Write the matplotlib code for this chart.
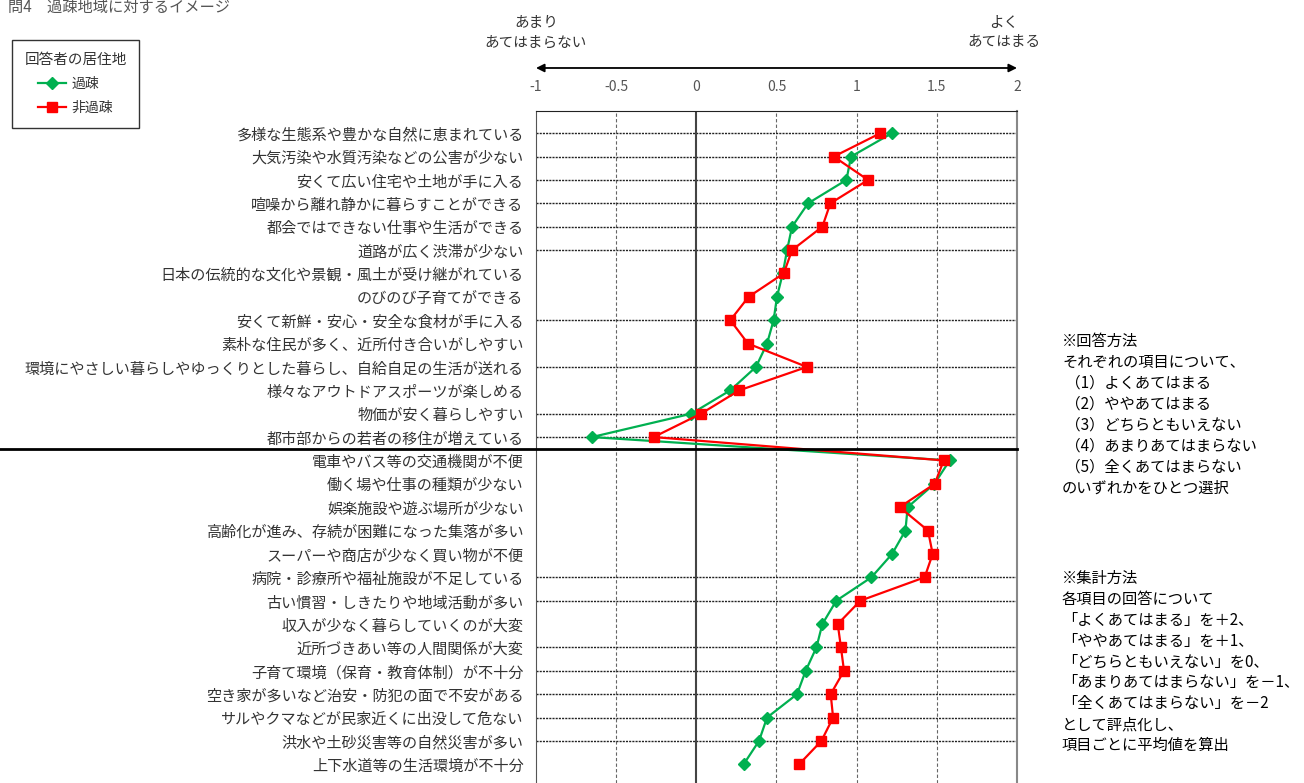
import numpy as np
import matplotlib
matplotlib.use("Agg")
import matplotlib.pyplot as plt
import matplotlib.transforms as mtransforms

plt.rcParams['font.family'] = ['Noto Sans CJK JP', 'DejaVu Sans']

# items (top = positive image, bottom = negative image)
items = [
    "多様な生態系や豊かな自然に恵まれている",
    "大気汚染や水質汚染などの公害が少ない",
    "安くて広い住宅や土地が手に入る",
    "喧噪から離れ静かに暮らすことができる",
    "都会ではできない仕事や生活ができる",
    "道路が広く渋滞が少ない",
    "日本の伝統的な文化や景観・風土が受け継がれている",
    "のびのび子育てができる",
    "安くて新鮮・安心・安全な食材が手に入る",
    "素朴な住民が多く、近所付き合いがしやすい",
    "環境にやさしい暮らしやゆっくりとした暮らし、自給自足の生活が送れる",
    "様々なアウトドアスポーツが楽しめる",
    "物価が安く暮らしやすい",
    "都市部からの若者の移住が増えている",
    "電車やバス等の交通機関が不便",
    "働く場や仕事の種類が少ない",
    "娯楽施設や遊ぶ場所が少ない",
    "高齢化が進み、存続が困難になった集落が多い",
    "スーパーや商店が少なく買い物が不便",
    "病院・診療所や福祉施設が不足している",
    "古い慣習・しきたりや地域活動が多い",
    "収入が少なく暮らしていくのが大変",
    "近所づきあい等の人間関係が大変",
    "子育て環境（保育・教育体制）が不十分",
    "空き家が多いなど治安・防犯の面で不安がある",
    "サルやクマなどが民家近くに出没して危ない",
    "洪水や土砂災害等の自然災害が多い",
    "上下水道等の生活環境が不十分",
]

kaso = [1.22, 0.965, 0.936, 0.697, 0.597, 0.566, 0.539, 0.503, 0.482, 0.441,
        0.372, 0.212, -0.031, -0.651,
        1.580, 1.485, 1.318, 1.304, 1.221, 1.092, 0.873, 0.786, 0.749, 0.682,
        0.628, 0.441, 0.391, 0.295]
hikaso = [1.148, 0.857, 1.071, 0.836, 0.786, 0.597, 0.545, 0.326, 0.212, 0.322,
          0.690, 0.268, 0.029, -0.266,
          1.543, 1.487, 1.268, 1.445, 1.474, 1.424, 1.023, 0.882, 0.902, 0.921,
          0.838, 0.853, 0.780, 0.641]

xticks = [-1, -0.5, 0, 0.5, 1, 1.5, 2]
xticklabels = ["-1", "-0.5", "0", "0.5", "1", "1.5", "2"]

# rows that carry a dotted gridline in the original
grid_rows = [0, 1, 2, 3, 4, 5, 8, 10, 12, 13, 19, 20, 22, 23, 24, 25, 26]

note1 = ("※回答方法\n"
         "それぞれの項目について、\n"
         " （1）よくあてはまる\n"
         " （2）ややあてはまる\n"
         " （3）どちらともいえない\n"
         " （4）あまりあてはまらない\n"
         " （5）全くあてはまらない\n"
         "のいずれかをひとつ選択")
note2 = ("※集計方法\n"
         "各項目の回答について\n"
         "「よくあてはまる」を＋2、\n"
         "「ややあてはまる」を＋1、\n"
         "「どちらともいえない」を0、\n"
         "「あまりあてはまらない」を－1、\n"
         "「全くあてはまらない」を－2\n"
         "として評点化し、\n"
         "項目ごとに平均値を算出")

W, H = 1304, 783
fig = plt.figure(figsize=(W / 100, H / 100), dpi=100)
ax = fig.add_axes([536 / W, 0, (1017 - 536) / W, 1 - 111 / H])

y = np.arange(len(items))
green = '#00B050'
red = '#FF0000'

ax.plot(kaso, y, color=green, lw=1.6, marker='D', ms=6.5, label='過疎', zorder=3)
ax.plot(hikaso, y, color=red, lw=1.6, marker='s', ms=6.5, label='非過疎', zorder=4)

ax.set_xlim(-1, 2)
ax.set_ylim(27.8, -0.95)

# grid
for xv in [-0.5, 0.5, 1, 1.5]:
    ax.axvline(xv, color='#666666', lw=0.8, ls=(0, (3, 2)), zorder=1)
ax.axvline(0, color='#444444', lw=1.5, zorder=2)
for r in grid_rows:
    ax.axhline(r, color='#222222', lw=1.0, ls=(0, (1.5, 0.8)), zorder=1)

ax.xaxis.tick_top()
ax.set_xticks(xticks)
ax.set_xticklabels(xticklabels, color='#555555', fontsize=10)
ax.tick_params(axis='x', length=0, pad=12)

ax.set_yticks(y)
ax.set_yticklabels(items, color='#333333', fontsize=10.9)
ax.tick_params(axis='y', length=0, pad=9)
ax.set_yticks(grid_rows, minor=True)
ax.tick_params(axis='y', which='minor', length=4, color='#555555', direction='out')

ax.spines['bottom'].set_visible(False)
ax.spines['top'].set_color('#222222')
ax.spines['left'].set_color('#555555')
ax.spines['right'].set_color('#888888')
ax.spines['right'].set_linewidth(1.5)

# separator between positive and negative images
trans = mtransforms.blended_transform_factory(fig.transFigure, ax.transData)
ax.plot([0, 1017 / W], [13.5, 13.5], color='black', lw=2, transform=trans,
        clip_on=False, zorder=5)

# arrow and end labels
xa = ax.get_xaxis_transform()
ax.annotate('', xy=(2, 1.064), xytext=(-1, 1.064), xycoords=xa, textcoords=xa,
            arrowprops=dict(arrowstyle='<|-|>', color='black', lw=1.3,
                            mutation_scale=12, shrinkA=0, shrinkB=0),
            annotation_clip=False)
ax.text(-1, 1.117, "あまり\nあてはまらない", transform=xa, ha='center', va='center',
        fontsize=10.5, color='#333333', linespacing=1.5)
ax.text(1.92, 1.117, "よく\nあてはまる", transform=xa, ha='center', va='center',
        fontsize=10.5, color='#333333', linespacing=1.5)

fig.text(8 / W, 1 - 7 / H, "問4　過疎地域に対するイメージ", ha='left', va='center',
         fontsize=11, color='#555555')

leg = fig.legend(loc='upper left', bbox_to_anchor=(12 / W, 1 - 40 / H),
                 borderaxespad=0, title='回答者の居住地', fontsize=10,
                 title_fontsize=10.5, frameon=True, fancybox=False,
                 edgecolor='black', handlelength=2.0, handletextpad=0.4,
                 borderpad=0.9, labelspacing=0.75)
leg.get_frame().set_linewidth(1.0)
for t in leg.get_texts():
    t.set_color('#333333')
leg.get_title().set_color('#333333')

fig.text(1062 / W, 1 - 333 / H, note1, ha='left', va='top', fontsize=11,
         color='black', linespacing=1.3)
fig.text(1062 / W, 1 - 570 / H, note2, ha='left', va='top', fontsize=11,
         color='black', linespacing=1.3)

fig.savefig('out.png', dpi=100)
